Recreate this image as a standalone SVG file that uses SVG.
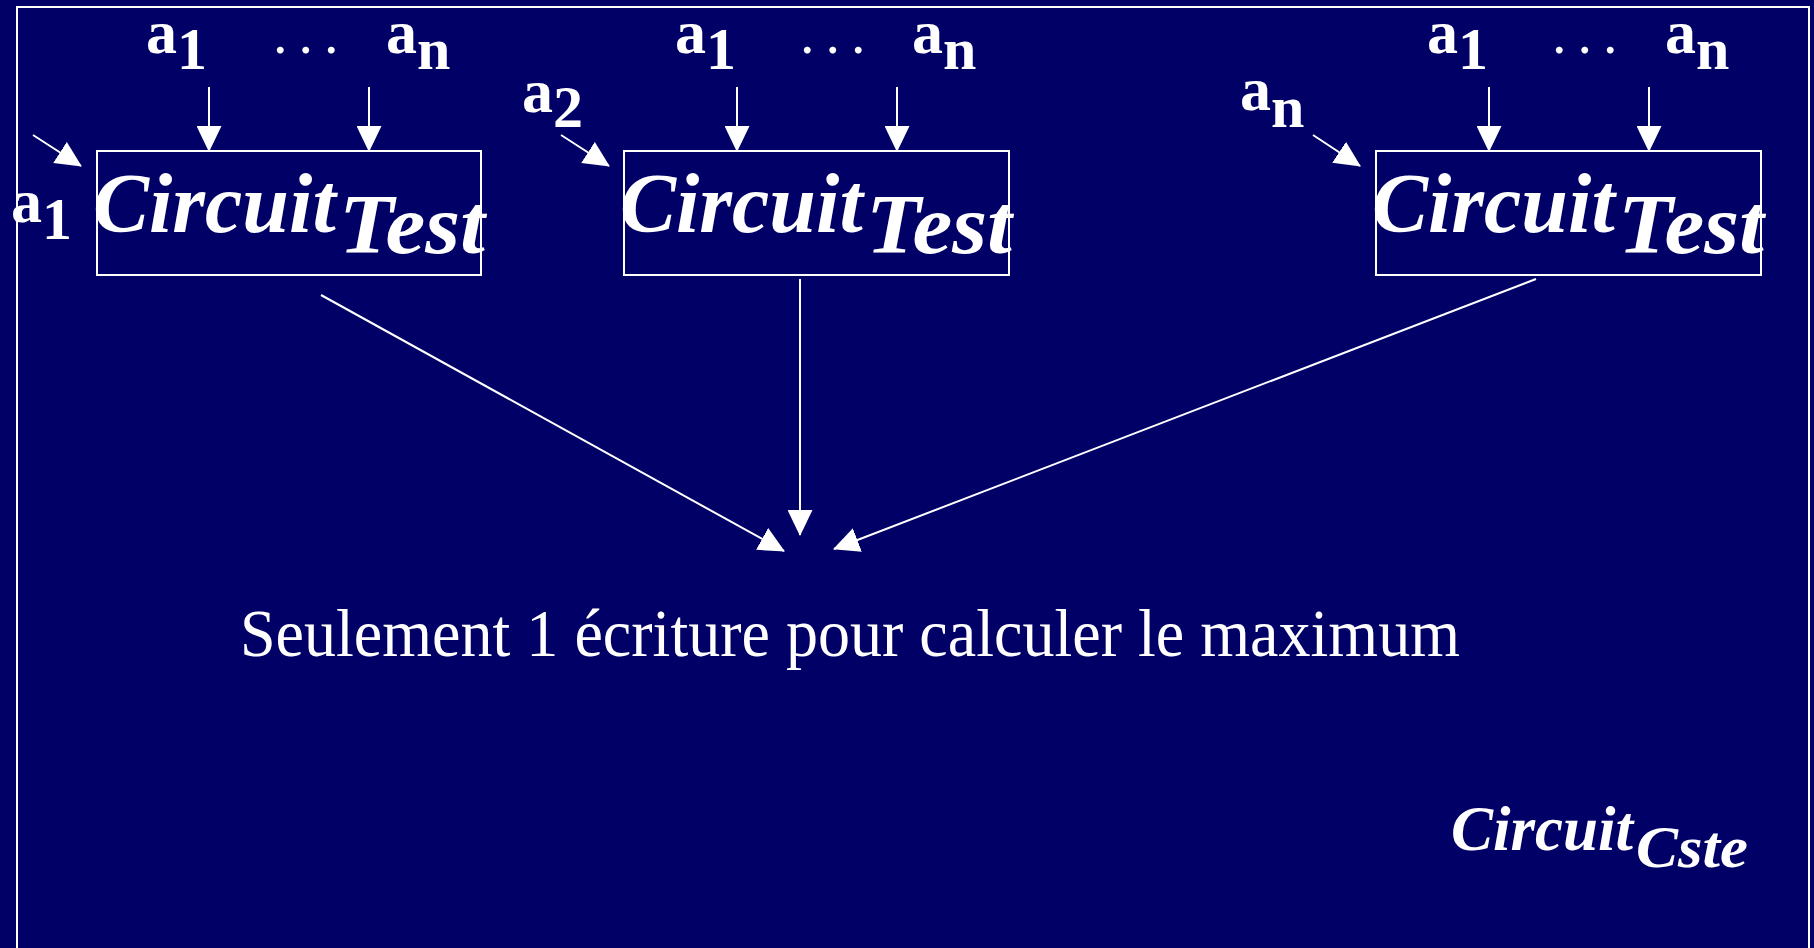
<svg xmlns="http://www.w3.org/2000/svg" width="1814" height="948" viewBox="0 0 1814 948">
<defs>
<marker id="ah" viewBox="0 0 26 25" refX="25" refY="12.5" markerWidth="26" markerHeight="25" markerUnits="userSpaceOnUse" orient="auto">
<path d="M0,0 L26,12.5 L0,25 z" fill="#fff"/>
</marker>
<style>
.ln{stroke:#fff;stroke-width:2;fill:none}
.ar{stroke:#fff;stroke-width:2;fill:none;marker-end:url(#ah)}
.box{stroke:#fff;stroke-width:2;fill:none}
.lab{font-family:"Liberation Serif","Times New Roman",serif;font-weight:bold;font-size:62px;fill:#fff}
.sub{font-size:60px}
.dots{font-family:"Liberation Serif","Times New Roman",serif;font-size:58px;letter-spacing:11px;fill:#fff}
.ct{font-family:"Liberation Serif","Times New Roman",serif;font-weight:bold;font-style:italic;font-size:84px;fill:#fff}
.cap{font-family:"Liberation Serif","Times New Roman",serif;font-size:68px;fill:#fff}
</style>
</defs>
<rect x="0" y="0" width="1814" height="948" fill="#000066"/>
<rect x="17" y="7" width="1792" height="1000" class="box"/>

<g id="circuit-test-1" transform="translate(97,0)">
<rect x="0" y="151" width="384" height="124" class="box"/>
<line x1="112" y1="87" x2="112" y2="151" class="ar"/>
<line x1="272" y1="87" x2="272" y2="151" class="ar"/>
<text x="49" y="53" class="lab">a<tspan class="sub" dy="16">1</tspan></text>
<text x="176" y="53" class="dots">...</text>
<text x="289" y="53" class="lab">a<tspan class="sub" dy="16">n</tspan></text>
<text x="-86" y="222" class="lab">a<tspan class="sub" dy="17">1</tspan></text>
<line x1="-64" y1="135" x2="-16" y2="166" class="ar"/>
<text x="-4" y="232" class="ct">Circuit</text>
<text x="242" y="253" class="ct" textLength="146" lengthAdjust="spacingAndGlyphs">Test</text>
</g>

<g id="circuit-test-2" transform="translate(624,0)">
<rect x="0" y="151" width="385" height="124" class="box"/>
<line x1="113" y1="87" x2="113" y2="151" class="ar"/>
<line x1="273" y1="87" x2="273" y2="151" class="ar"/>
<text x="51" y="53" class="lab">a<tspan class="sub" dy="16">1</tspan></text>
<text x="176" y="53" class="dots">...</text>
<text x="288" y="53" class="lab">a<tspan class="sub" dy="16">n</tspan></text>
<text x="-102" y="112" class="lab">a<tspan class="sub" dy="15">2</tspan></text>
<line x1="-63" y1="135" x2="-15" y2="166" class="ar"/>
<text x="-4" y="232" class="ct">Circuit</text>
<text x="242" y="253" class="ct" textLength="146" lengthAdjust="spacingAndGlyphs">Test</text>
</g>

<g id="circuit-test-n" transform="translate(1376,0)">
<rect x="0" y="151" width="385" height="124" class="box"/>
<line x1="113" y1="87" x2="113" y2="151" class="ar"/>
<line x1="273" y1="87" x2="273" y2="151" class="ar"/>
<text x="51" y="53" class="lab">a<tspan class="sub" dy="16">1</tspan></text>
<text x="176" y="53" class="dots">...</text>
<text x="289" y="53" class="lab">a<tspan class="sub" dy="16">n</tspan></text>
<text x="-136" y="110" class="lab">a<tspan class="sub" dy="17">n</tspan></text>
<line x1="-63" y1="135" x2="-16" y2="166" class="ar"/>
<text x="-4" y="232" class="ct">Circuit</text>
<text x="242" y="253" class="ct" textLength="146" lengthAdjust="spacingAndGlyphs">Test</text>
</g>

<g id="connectors">
<line x1="321" y1="295" x2="784" y2="551" class="ar"/>
<line x1="800" y1="279" x2="800" y2="535" class="ar"/>
<line x1="1536" y1="279" x2="834" y2="549" class="ar"/>
</g>

<g id="caption">
<text x="240" y="656" class="cap" textLength="1220" lengthAdjust="spacingAndGlyphs">Seulement 1 écriture pour calculer le maximum</text>
</g>

<g id="circuit-cste">
<text x="1451" y="850" class="ct" style="font-size:63px">Circuit</text>
<text x="1636" y="867" class="ct" style="font-size:60px" textLength="112" lengthAdjust="spacingAndGlyphs">Cste</text>
</g>
</svg>
